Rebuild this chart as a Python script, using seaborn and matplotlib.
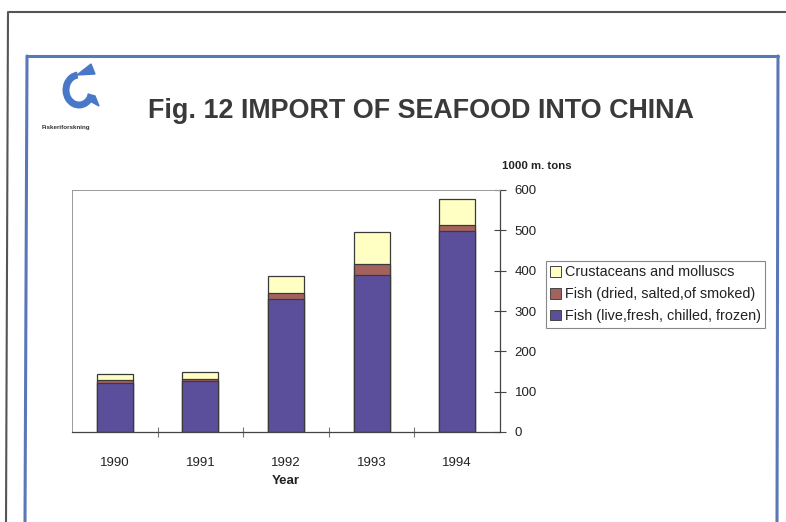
import numpy as np
import pandas as pd
import matplotlib
matplotlib.use("Agg")
import matplotlib.pyplot as plt
import matplotlib.patches as mpatches
from matplotlib.lines import Line2D
import seaborn as sns

years = ["1990", "1991", "1992", "1993", "1994"]
fish_fresh = [122, 126, 330, 389, 498]
fish_dried = [8, 6, 15, 27, 15]
crustaceans = [13, 17, 43, 79, 64]

series_labels = [
    "Crustaceans and molluscs",
    "Fish (dried, salted,of smoked)",
    "Fish (live,fresh, chilled, frozen)",
]
colors = ["#ffffc4", "#a4625e", "#5b4f9c"]

sns.set_theme(style="white")
plt.rcParams["font.family"] = ["Liberation Sans", "DejaVu Sans"]

df = pd.DataFrame({
    "Year": years,
    "fresh": fish_fresh,
    "dried": fish_dried,
    "crust": crustaceans,
})
# cumulative heights, drawn back to front so the stack shows
df["top_dried"] = df["fresh"] + df["dried"]
df["top_crust"] = df["top_dried"] + df["crust"]

W, H = 786, 522
fig = plt.figure(figsize=(W / 100, H / 100), dpi=100)
fig.patch.set_facecolor("white")


def fx(px):
    return px / W


def fy(py):
    return 1 - py / H


ax = fig.add_axes([fx(72), fy(432), fx(500) - fx(72), fy(190) - fy(432)])
ax.set_facecolor("white")

for col, c in zip(["top_crust", "top_dried", "fresh"], colors):
    sns.barplot(data=df, x="Year", y=col, color=c, width=0.42,
                edgecolor="#3a3a3a", linewidth=0.9, saturation=1, ax=ax)

ax.set_xlim(-0.5, 4.5)
ax.set_ylim(0, 600)
ax.set_xlabel("")
ax.set_ylabel("")

# axes: right y axis, bottom x axis, dotted frame elsewhere
ax.yaxis.tick_right()
ax.set_yticks(range(0, 601, 100))
ax.tick_params(axis="y", direction="inout", length=9, width=0.8,
               colors="#444444", labelsize=9.5, pad=6, right=True, left=False)
for lbl in ax.get_yticklabels():
    lbl.set_color("#222222")
ax.set_xticks(range(len(years)))
ax.set_xticklabels(years)
ax.tick_params(axis="x", length=0, labelsize=9.5, pad=18, labelcolor="#222222")
ax.set_xticks(np.arange(0.5, 4.5, 1), minor=True)
ax.tick_params(axis="x", which="minor", direction="inout", length=7,
               width=0.8, colors="#777777", bottom=True)

ax.spines["right"].set_color("#444444")
ax.spines["right"].set_linewidth(0.9)
ax.spines["bottom"].set_color("#444444")
ax.spines["bottom"].set_linewidth(0.9)
for s in ["top", "left"]:
    ax.spines[s].set_color("#999999")
    ax.spines[s].set_linewidth(0.7)
    ax.spines[s].set_linestyle((0, (2, 1)))

fig.text(fx(537), fy(166), "1000 m. tons", fontsize=8.2, fontweight="bold",
         ha="center", va="center", color="#222222")
fig.text(fx(286), fy(481), "Year", fontsize=9.5, fontweight="bold",
         ha="center", va="center", color="#222222")

# legend
handles = [mpatches.Patch(facecolor=c, edgecolor="#444444", linewidth=0.7)
           for c in colors]
leg = fig.legend(handles, series_labels, loc="upper left",
                 bbox_to_anchor=(fx(546), fy(261)), fontsize=10.4,
                 frameon=True, fancybox=False, framealpha=1,
                 edgecolor="#888888", handlelength=0.75, handleheight=0.75,
                 handletextpad=0.25, labelspacing=0.55, borderpad=0.3,
                 borderaxespad=0)
leg.get_frame().set_linewidth(0.8)
for t in leg.get_texts():
    t.set_color("#222222")

# title
fig.text(fx(148), fy(111), "Fig. 12 IMPORT OF SEAFOOD INTO CHINA",
         fontsize=19.4, fontweight="bold", ha="left", va="center",
         color="#3a3a3a")

# page frames
fig.add_artist(Line2D([fx(9), 1], [fy(12), fy(12)], color="#555555", lw=1.5))
fig.add_artist(Line2D([fx(8), fx(6)], [fy(12), 0], color="#555555", lw=1.5))
fig.add_artist(Line2D([fx(27), fx(778)], [fy(56), fy(56)], color="#5a78b8", lw=2.2))
fig.add_artist(Line2D([fx(27), fx(25)], [fy(56), 0], color="#5a78b8", lw=2.2))
fig.add_artist(Line2D([fx(778), fx(777)], [fy(56), 0], color="#5a78b8", lw=2.2))

# logo
logo_ax = fig.add_axes([fx(55), fy(112), fx(50), fy(60) - fy(112)])
logo_ax.set_xlim(0, 50)
logo_ax.set_ylim(0, 52)
logo_ax.axis("off")
logo_ax.add_patch(mpatches.Arc((24, 22), 26, 30, theta1=95, theta2=330,
                               color="#4a78c8", lw=5))
logo_ax.add_patch(mpatches.Polygon([[22, 37], [36, 48], [40, 38]],
                                   color="#4a78c8"))
logo_ax.add_patch(mpatches.Polygon([[33, 12], [44, 6], [40, 16], [33, 18]],
                                   color="#4a78c8"))
fig.text(fx(66), fy(127), "Fiskeriforskning", fontsize=4.5, ha="center",
         va="center", color="#333333", fontweight="bold")

fig.savefig("out.png", dpi=100, facecolor="white")
